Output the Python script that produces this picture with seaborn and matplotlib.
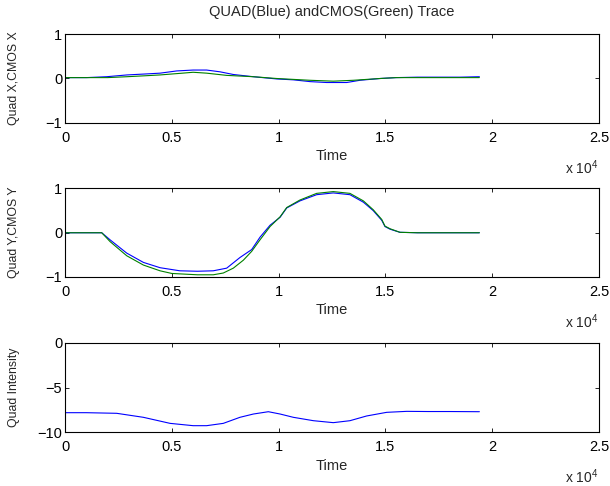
import numpy as np
import pandas as pd
import matplotlib
matplotlib.use("Agg")
import matplotlib.pyplot as plt
from matplotlib.ticker import FuncFormatter
import seaborn as sns

# ---- X position trace ----
quad_x_t = [0, 1000, 1950, 2900, 3700, 4450, 5230, 6000, 6630, 7260, 7880, 8820,
            9910, 10690, 11470, 12250, 13190, 13810, 14750, 15500, 16500, 17500, 18500, 19400]
quad_x_v = [0.02, 0.02, 0.04, 0.08, 0.10, 0.12, 0.17, 0.19, 0.19, 0.15, 0.09, 0.04,
            -0.01, -0.03, -0.07, -0.09, -0.09, -0.04, 0.00, 0.02, 0.03, 0.03, 0.03, 0.04]
cmos_x_t = [0, 1000, 2000, 2900, 3700, 4450, 5500, 6000, 6630, 7570, 8820, 9910,
            11470, 12560, 13500, 14750, 15500, 16500, 17500, 18500, 19400]
cmos_x_v = [0.02, 0.02, 0.02, 0.04, 0.06, 0.08, 0.12, 0.14, 0.12, 0.07, 0.04, 0.00,
            -0.04, -0.06, -0.04, 0.00, 0.02, 0.02, 0.02, 0.02, 0.02]

# ---- Y position trace ----
quad_y_t = [0, 1000, 1720, 2110, 2890, 3670, 4450, 5380, 6200, 6940, 7570, 8190,
            8740, 9130, 9600, 10070, 10380, 11000, 11780, 12560, 13340, 13970,
            14430, 14830, 14980, 15220, 15680, 16500, 17500, 18500, 19400]
quad_y_v = [0.0, 0.0, 0.0, -0.16, -0.46, -0.67, -0.79, -0.86, -0.87, -0.86, -0.80, -0.56,
            -0.38, -0.10, 0.17, 0.35, 0.56, 0.72, 0.86, 0.90, 0.86, 0.69,
            0.50, 0.28, 0.14, 0.08, 0.01, 0.0, 0.0, 0.0, 0.0]
cmos_y_t = [0, 1000, 1720, 2110, 2890, 3670, 4450, 5000, 6200, 6940, 7410, 7880,
            8350, 8740, 9130, 9600, 10070, 10380, 11000, 11780, 12560, 13340, 13970,
            14430, 14830, 14980, 15220, 15680, 16500, 17500, 18500, 19400]
cmos_y_v = [0.0, 0.0, 0.0, -0.20, -0.52, -0.73, -0.86, -0.92, -0.95, -0.95, -0.91, -0.80,
            -0.62, -0.42, -0.16, 0.14, 0.36, 0.57, 0.74, 0.89, 0.93, 0.89, 0.72,
            0.52, 0.30, 0.15, 0.09, 0.01, 0.0, 0.0, 0.0, 0.0]

# ---- Intensity trace ----
quad_i_t = [0, 1000, 2420, 3670, 4920, 6000, 6630, 7410, 8190, 8820, 9520, 10070,
            10690, 11630, 12560, 13340, 14120, 15060, 16000, 17000, 18000, 19400]
quad_i_v = [-7.83, -7.83, -7.90, -8.35, -9.03, -9.29, -9.29, -9.03, -8.35, -7.98, -7.72, -7.98,
            -8.35, -8.73, -8.95, -8.73, -8.20, -7.79, -7.68, -7.70, -7.70, -7.72]

title = "QUAD(Blue) andCMOS(Green) Trace"
ylabels = ["Quad X,CMOS X", "Quad Y,CMOS Y", "Quad Intensity"]
xlabel = "Time"
xticks = [0, 5000, 10000, 15000, 20000, 25000]

BLUE = (0, 0, 1)
GREEN = (0, 0.5, 0)

sns.set_style("white")
plt.rcParams["font.family"] = ["Liberation Sans", "DejaVu Sans"]
plt.rcParams["mathtext.fontset"] = "custom"
plt.rcParams["mathtext.rm"] = "Liberation Sans"

FS = 10.5

fig = plt.figure(figsize=(6.1, 4.86), dpi=100)
W, H = 610, 486
left, right = 65, 599
tops = [34, 188.5, 343]
bottoms = [123, 277, 432]

axes = []
for t, b in zip(tops, bottoms):
    ax = fig.add_axes([left / W, 1 - b / H, (right - left) / W, (b - t) / H])
    axes.append(ax)

df_x = pd.concat([
    pd.DataFrame({"Time": quad_x_t, "value": quad_x_v, "src": "QUAD"}),
    pd.DataFrame({"Time": cmos_x_t, "value": cmos_x_v, "src": "CMOS"}),
])
df_y = pd.concat([
    pd.DataFrame({"Time": quad_y_t, "value": quad_y_v, "src": "QUAD"}),
    pd.DataFrame({"Time": cmos_y_t, "value": cmos_y_v, "src": "CMOS"}),
])
df_i = pd.DataFrame({"Time": quad_i_t, "value": quad_i_v, "src": "QUAD"})

palette = {"QUAD": BLUE, "CMOS": GREEN}
for ax, df in zip(axes, [df_x, df_y, df_i]):
    sns.lineplot(data=df, x="Time", y="value", hue="src", palette=palette,
                 estimator=None, sort=False, linewidth=0.8, legend=False, ax=ax)

xfmt = FuncFormatter(lambda v, p: f"{v / 1e4:g}")
yfmt = FuncFormatter(lambda v, p: f"{v:g}".replace("-", "\u2212"))
for i, ax in enumerate(axes):
    ax.set_xlim(0, 25000)
    ax.set_xticks(xticks)
    ax.xaxis.set_major_formatter(xfmt)
    if i < 2:
        ax.set_ylim(-1, 1)
        ax.set_yticks([-1, 0, 1])
    else:
        ax.set_ylim(-10, 0)
        ax.set_yticks([-10, -5, 0])
    ax.yaxis.set_major_formatter(yfmt)
    ax.tick_params(direction="in", length=3, width=0.6, top=True, right=True,
                   bottom=True, left=True, labelsize=FS, colors="black")
    ax.tick_params(axis="x", pad=6)
    ax.tick_params(axis="y", pad=2)
    for s in ax.spines.values():
        s.set_visible(True)
        s.set_color("black")
        s.set_linewidth(0.8)
    ax.set_xlabel(xlabel, fontsize=FS, labelpad=3)
    ax.set_ylabel(ylabels[i], fontsize=8.8)
    ax.yaxis.set_label_coords(-0.084, 0.5)
    ax.annotate(r"x 10$^{4}$", xy=(1.0, 0.0), xycoords="axes fraction",
                xytext=(-1, -35), textcoords="offset pixels",
                ha="right", va="top", fontsize=10)

axes[0].set_title(title, fontsize=FS, pad=13)

fig.savefig("out.png", dpi=100)
